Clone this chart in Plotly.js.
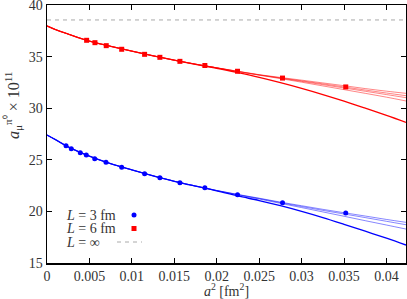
<!DOCTYPE html>
<html>
<head>
<meta charset="utf-8">
<script src="https://cdn.plot.ly/plotly-3.0.1.min.js"></script>
<style>html,body{margin:0;padding:0;background:#fff;}#chart{width:407px;height:299px;}</style>
</head>
<body>
<div id="chart"></div>
<script>
// ---- data ----
const a2_L3 = [0.00224, 0.00286, 0.00392, 0.00463, 0.00562, 0.00695, 0.0088, 0.0115, 0.0133, 0.01566, 0.0186, 0.02245, 0.02775, 0.0352];
const amu_L3 = [26.37, 26.08, 25.69, 25.47, 25.11, 24.76, 24.27, 23.65, 23.27, 22.78, 22.30, 21.62, 20.84, 19.84];

const a2_L6 = [0.00467, 0.00565, 0.00698, 0.0088, 0.0115, 0.0133, 0.01566, 0.0186, 0.02245, 0.02775, 0.0352];
const amu_L6 = [36.58, 36.35, 36.06, 35.71, 35.22, 34.93, 34.54, 34.14, 33.58, 32.92, 32.06];

const amu_Linf = 38.55;
const xRange = [0, 0.0423];
const yRange = [15, 40.0001];

// fit curves
const grid = [0, 0.001, 0.0025, 0.005, 0.0075, 0.01, 0.0125, 0.015, 0.0175, 0.02, 0.0225, 0.025, 0.0275, 0.03, 0.0325, 0.035, 0.0375, 0.04, 0.0423];

const fitL6_main = [37.97, 37.62, 37.18, 36.50, 36.00, 35.53, 35.08, 34.65, 34.25, 33.87, 33.44, 32.98, 32.47, 31.92, 31.32, 30.68, 30.00, 29.30, 28.63];
const fitL6_f1 = [37.97, 37.62, 37.18, 36.50, 36.00, 35.53, 35.08, 34.65, 34.27, 33.92, 33.58, 33.25, 32.98, 32.72, 32.45, 32.18, 31.90, 31.65, 31.44];
const fitL6_f2 = [37.97, 37.62, 37.18, 36.50, 36.00, 35.53, 35.08, 34.65, 34.27, 33.91, 33.56, 33.23, 32.94, 32.65, 32.36, 32.06, 31.76, 31.47, 31.21];
const fitL6_f3 = [37.97, 37.62, 37.18, 36.50, 36.00, 35.53, 35.08, 34.65, 34.27, 33.91, 33.56, 33.22, 32.91, 32.60, 32.28, 31.96, 31.64, 31.32, 31.02];
const fitL6_f4 = [37.97, 37.62, 37.18, 36.50, 36.00, 35.53, 35.08, 34.65, 34.26, 33.90, 33.54, 33.20, 32.87, 32.52, 32.16, 31.80, 31.44, 31.07, 30.70];

const fitL3_main = [27.40, 26.95, 26.25, 25.35, 24.62, 24.02, 23.45, 22.92, 22.45, 22.00, 21.50, 21.05, 20.55, 20.00, 19.40, 18.75, 18.08, 17.40, 16.74];
const fitL3_f1 = [27.40, 26.95, 26.25, 25.35, 24.62, 24.02, 23.45, 22.92, 22.46, 22.03, 21.64, 21.28, 20.90, 20.55, 20.20, 19.87, 19.55, 19.22, 18.94];
const fitL3_f2 = [27.40, 26.95, 26.25, 25.35, 24.62, 24.02, 23.45, 22.92, 22.46, 22.02, 21.62, 21.25, 20.85, 20.47, 20.10, 19.75, 19.40, 19.04, 18.71];
const fitL3_f3 = [27.40, 26.95, 26.25, 25.35, 24.62, 24.02, 23.45, 22.92, 22.45, 22.01, 21.60, 21.20, 20.78, 20.37, 19.95, 19.53, 19.10, 18.68, 18.29];

const legendLabels = ['<i>L</i> = 3 fm', '<i>L</i> = 6 fm', '<i>L</i> = ∞'];
const xTitle = '<i>a</i><sup>2</sup> [fm<sup>2</sup>]';
const yTitle = '<i>a</i><sub>μ</sub><sup>π⁰</sup> × 10<sup>11</sup>';

// ---- traces ----
const RED = '#ff0000', BLUE = '#0000ff';
function fan(y, c) {
  return {x: grid, y: y, mode: 'lines', line: {color: c, width: 0.8, shape: 'spline'}, opacity: 0.6, showlegend: false, hoverinfo: 'skip'};
}
function main(y, c) {
  return {x: grid, y: y, mode: 'lines', line: {color: c, width: 1.3, shape: 'spline'}, showlegend: false};
}
const traces = [
  {x: xRange, y: [amu_Linf, amu_Linf], mode: 'lines', line: {color: '#aaaaaa', width: 1, dash: '4px,4px'}, showlegend: false},
  fan(fitL6_f1, RED), fan(fitL6_f2, RED), fan(fitL6_f3, RED), fan(fitL6_f4, RED),
  main(fitL6_main, RED),
  fan(fitL3_f1, BLUE), fan(fitL3_f2, BLUE), fan(fitL3_f3, BLUE),
  main(fitL3_main, BLUE),
  {x: a2_L3, y: amu_L3, mode: 'markers', marker: {color: BLUE, size: 5, symbol: 'circle'}, showlegend: false},
  {x: a2_L6, y: amu_L6, mode: 'markers', marker: {color: RED, size: 5, symbol: 'square'}, showlegend: false}
];

const FONT = 'Liberation Serif';
const TXT = {family: FONT, size: 14, color: '#333'};
const axisCommon = {
  showline: true, linecolor: '#000', linewidth: 1.5, mirror: 'ticks',
  ticks: 'inside', ticklen: 5, tickwidth: 1, tickcolor: '#000',
  showgrid: false, zeroline: false, ticklabeloverflow: 'allow',
  tickfont: TXT
};

const symX = (134 - 47) / 359;
const rowY = [(263 - 215) / 258, (263 - 228.5) / 258, (263 - 242) / 258];

const annotations = legendLabels.map((t, i) => ({
  xref: 'paper', yref: 'paper', x: (64 - 47) / 359, y: rowY[i], xanchor: 'left', yanchor: 'middle',
  text: t, showarrow: false, font: TXT
}));
annotations.push({
  xref: 'paper', yref: 'paper', x: (13 - 47) / 359, y: (263 - 106) / 258, xanchor: 'center', yanchor: 'middle',
  text: yTitle, textangle: -90, showarrow: false, font: {family: FONT, size: 16, color: '#333'}
});

const layout = {
  width: 407, height: 299,
  margin: {l: 47, r: 1, t: 5, b: 36},
  paper_bgcolor: '#fff', plot_bgcolor: '#fff',
  showlegend: false,
  xaxis: Object.assign({}, axisCommon, {
    range: xRange, dtick: 0.005, tick0: 0,
    title: {text: xTitle, font: TXT, standoff: 3}
  }),
  yaxis: Object.assign({}, axisCommon, {
    range: yRange, dtick: 5, tick0: 15
  }),
  annotations: annotations,
  shapes: [
    {type: 'circle', xref: 'paper', yref: 'paper', xsizemode: 'pixel', ysizemode: 'pixel',
     xanchor: symX, yanchor: rowY[0], x0: -2.5, x1: 2.5, y0: -2.5, y1: 2.5, fillcolor: BLUE, line: {width: 0}},
    {type: 'rect', xref: 'paper', yref: 'paper', xsizemode: 'pixel', ysizemode: 'pixel',
     xanchor: symX, yanchor: rowY[1], x0: -2.5, x1: 2.5, y0: -2.5, y1: 2.5, fillcolor: RED, line: {width: 0}},
    {type: 'line', xref: 'paper', yref: 'paper', x0: (117 - 47) / 359, x1: (142 - 47) / 359, y0: rowY[2], y1: rowY[2],
     line: {color: '#aaaaaa', width: 1, dash: '4px,4px'}}
  ]
};

Plotly.newPlot('chart', traces, layout, {displayModeBar: false, staticPlot: true});
</script>
</body>
</html>
